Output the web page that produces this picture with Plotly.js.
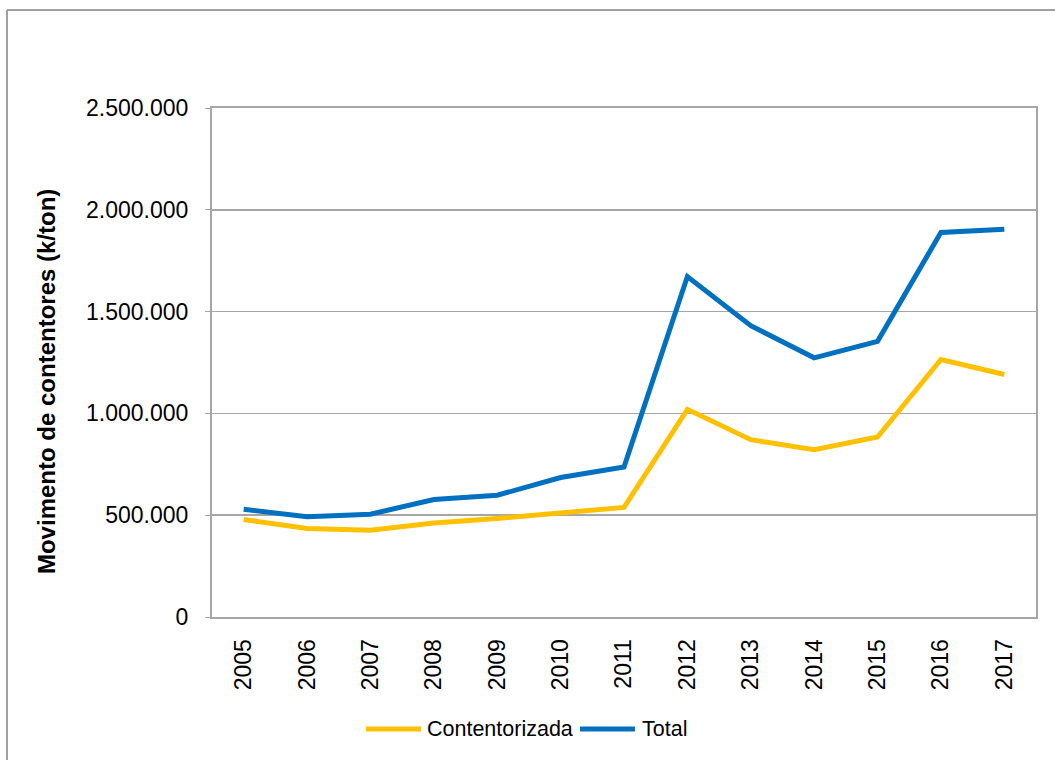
<!DOCTYPE html>
<html>
<head>
<meta charset="utf-8">
<script src="https://cdn.plot.ly/plotly-3.0.1.min.js"></script>
<style>
  html, body { margin: 0; padding: 0; background: #ffffff; }
  #chart { width: 1055px; height: 760px; }
</style>
</head>
<body>
<div id="chart"></div>
<script>
// Container traffic per year (k/ton)
const years = ['2005', '2006', '2007', '2008', '2009', '2010', '2011',
               '2012', '2013', '2014', '2015', '2016', '2017'];
const contentorizada = [479000, 435000, 426000, 462000, 484000, 513000, 538000,
                        1020000, 871000, 822000, 884000, 1265000, 1191000];
const total = [529000, 492000, 505000, 577000, 598000, 685000, 737000,
               1672000, 1431000, 1273000, 1354000, 1889000, 1905000];

const seriesNames = ['Contentorizada', 'Total'];
const seriesColors = ['#FFC000', '#0070C0'];
const yTitle = 'Movimento de contentores (k/ton)';

const font = 'Liberation Sans, Arial, sans-serif';
const gridGray = '#A6A6A6';

const traces = [contentorizada, total].map((vals, i) => ({
  type: 'scatter',
  mode: 'lines',
  x: years,
  y: vals,
  name: seriesNames[i],
  line: { color: seriesColors[i], width: 5 },
  showlegend: false,
  hoverinfo: 'x+y'
}));

// Legend drawn as line swatches + labels below the axis
const legendY = -0.22;
const legendItems = [
  { x0: 0.1869, x1: 0.2536, tx: 0.2585 },
  { x0: 0.4466, x1: 0.5133, tx: 0.5194 }
];
const shapes = [];
const annotations = [];
legendItems.forEach((it, i) => {
  shapes.push({
    type: 'line', xref: 'paper', yref: 'paper',
    x0: it.x0, x1: it.x1, y0: legendY, y1: legendY,
    line: { color: seriesColors[i], width: 5 }
  });
  annotations.push({
    xref: 'paper', yref: 'paper', x: it.tx, y: legendY,
    xanchor: 'left', yanchor: 'middle', showarrow: false,
    text: seriesNames[i],
    font: { family: font, size: 21.5, color: '#000000' }
  });
});

// Outer chart frame (left and top edges)
shapes.push({
  type: 'line', xref: 'paper', yref: 'paper',
  x0: -0.2488, x1: -0.2488, y0: -0.30, y1: 1.1925,
  line: { color: '#A0A0A0', width: 2 }
});
shapes.push({
  type: 'line', xref: 'paper', yref: 'paper',
  x0: -0.2488, x1: 1.03, y0: 1.1925, y1: 1.1925,
  line: { color: '#A0A0A0', width: 2 }
});

// Y axis title
annotations.push({
  xref: 'paper', yref: 'paper', x: -0.2002, y: 0.4617,
  xanchor: 'center', yanchor: 'middle', showarrow: false,
  textangle: -90, text: '<b>' + yTitle + '</b>',
  font: { family: font, size: 24, color: '#000000' }
});

const layout = {
  width: 1055,
  height: 760,
  margin: { l: 212, r: 19, t: 108, b: 143 },
  paper_bgcolor: '#ffffff',
  plot_bgcolor: '#ffffff',
  separators: ',.',
  font: { family: font, size: 20, color: '#000000' },
  xaxis: {
    type: 'category',
    range: [-0.5, years.length - 0.5],
    tickangle: -90,
    showgrid: false,
    showline: true,
    mirror: true,
    linecolor: gridGray,
    linewidth: 2,
    ticks: '',
    ticklabelstandoff: 11,
    tickfont: { family: font, size: 23, color: '#000000' },
    fixedrange: true
  },
  yaxis: {
    range: [0, 2500000],
    dtick: 500000,
    tick0: 0,
    tickformat: ',d',
    showgrid: true,
    gridcolor: gridGray,
    gridwidth: 1.5,
    zeroline: false,
    showline: true,
    mirror: true,
    linecolor: gridGray,
    linewidth: 2,
    ticks: 'outside',
    ticklen: 5,
    tickcolor: gridGray,
    ticklabelstandoff: 12,
    tickfont: { family: font, size: 23, color: '#000000' },
    fixedrange: true
  },
  shapes: shapes,
  annotations: annotations
};

Plotly.newPlot('chart', traces, layout, { displayModeBar: false, staticPlot: true });
</script>
</body>
</html>
